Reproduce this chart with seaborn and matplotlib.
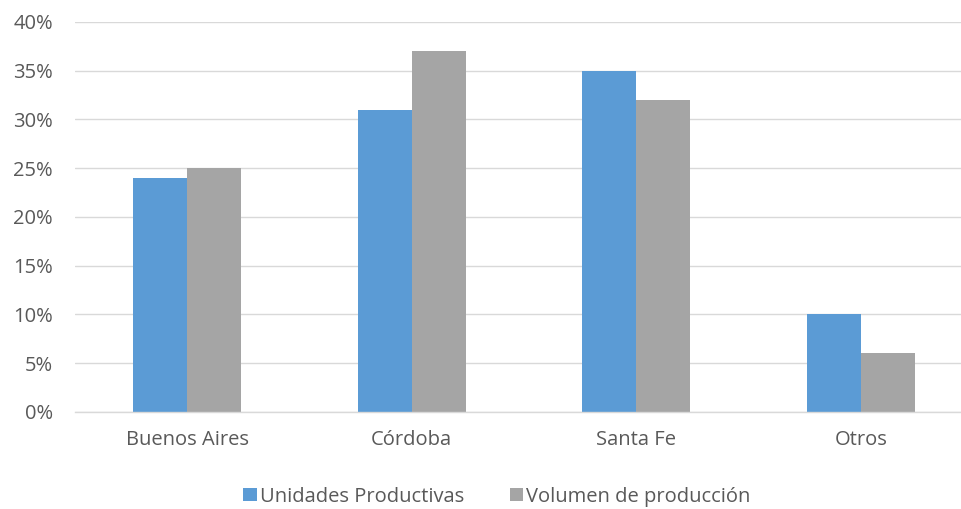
import matplotlib
matplotlib.use("Agg")
import matplotlib.pyplot as plt
import pandas as pd
import seaborn as sns
from matplotlib.ticker import PercentFormatter

# ==========================================================
# Data
# ==========================================================

provincias = ["Buenos Aires", "Córdoba", "Santa Fe", "Otros"]
unidades_productivas = [24, 31, 35, 10]
volumen_produccion = [25, 37, 32, 6]
series = ["Unidades Productivas", "Volumen de producción"]
y_ticks = [0, 5, 10, 15, 20, 25, 30, 35, 40]

df = pd.DataFrame({
    "provincia": provincias * 2,
    "serie": [series[0]] * len(provincias) + [series[1]] * len(provincias),
    "valor": unidades_productivas + volumen_produccion,
})

# ==========================================================
# Style
# ==========================================================

sns.set_theme(style="white")
plt.rcParams["font.family"] = ["Open Sans", "DejaVu Sans"]
TEXT = "#595959"
GRID = "#D9D9D9"
FS = 14.5

fig = plt.figure(figsize=(9.62, 5.09), dpi=100)
ax = fig.add_axes([75 / 962, 0.191, 898 / 962, 0.766])

sns.barplot(
    data=df,
    x="provincia",
    y="valor",
    hue="serie",
    palette=["#5B9BD5", "#A5A5A5"],
    width=0.48,
    gap=0,
    saturation=1,
    linewidth=0,
    ax=ax,
)

ax.set_ylim(0, 40)
ax.set_yticks(y_ticks)
ax.yaxis.set_major_formatter(PercentFormatter(decimals=0))
ax.set_xlim(-0.5, len(provincias) - 0.5)
ax.grid(axis="y", color=GRID, linewidth=1)
ax.set_axisbelow(True)
ax.set_xlabel("")
ax.set_ylabel("")

for side in ["top", "right", "left"]:
    ax.spines[side].set_visible(False)
ax.spines["bottom"].set_color(GRID)
ax.spines["bottom"].set_linewidth(1)

ax.tick_params(axis="both", length=0, labelsize=FS, labelcolor=TEXT)
ax.tick_params(axis="x", pad=13)
ax.tick_params(axis="y", pad=16)

ax.legend(
    loc="center",
    bbox_to_anchor=(0.47, -0.218),
    ncol=2,
    frameon=False,
    fontsize=FS,
    labelcolor=TEXT,
    handlelength=0.65,
    handleheight=0.65,
    handletextpad=0.15,
    columnspacing=2.3,
)

fig.savefig("out.png", dpi=100)
